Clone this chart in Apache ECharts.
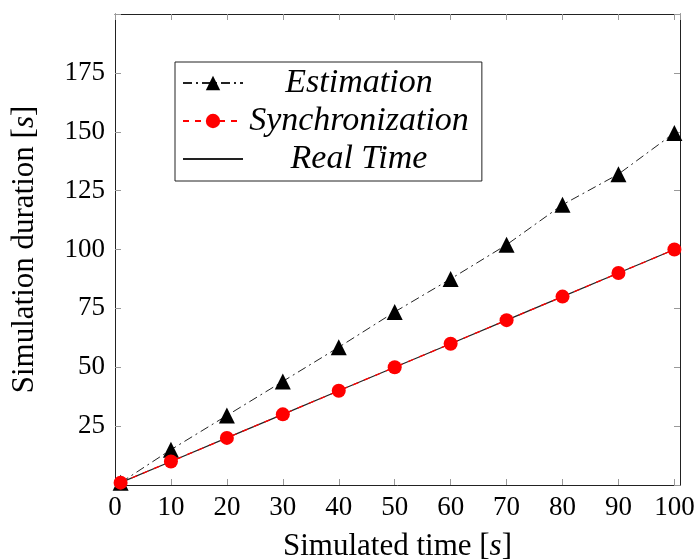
<!DOCTYPE html>
<html>
<head>
<meta charset="utf-8">
<script src="https://cdn.jsdelivr.net/npm/echarts@6/dist/echarts.min.js"></script>
<style>
  html, body { margin: 0; padding: 0; background: #fff; overflow: hidden; }
  #chart { width: 697px; height: 559px; }
</style>
</head>
<body>
<div id="chart"></div>
<script>
// data
const simTime = [1, 10, 20, 30, 40, 50, 60, 70, 80, 90, 100];
const estimation = [1, 15, 29.5, 44, 58.5, 73.5, 87.5, 102, 119, 132, 149.5];
const synchronization = [1, 10, 20, 30, 40, 50, 60, 70, 80, 90, 100];
const realTime = [1, 10, 20, 30, 40, 50, 60, 70, 80, 90, 100];
const yTicks = [25, 50, 75, 100, 125, 150, 175];

const serif = '"Liberation Serif", "DejaVu Serif", serif';

const pairs = (xs, ys) => xs.map((x, i) => [x, ys[i]]);

const chart = echarts.init(document.getElementById('chart'));

// same tick look on all four sides of the box
const tickStyle = { show: true, inside: true, length: 6, lineStyle: { color: '#999', width: 1 } };
const lineStyleAxis = { show: true, onZero: false, lineStyle: { color: '#222', width: 1 } };
const nameStyle = {
  fontFamily: serif, fontSize: 31, color: '#000',
  rich: { i: { fontFamily: serif, fontStyle: 'italic', fontSize: 31, color: '#000' } }
};

chart.setOption({
  animation: false,
  backgroundColor: '#fff',
  // fixed box, no auto-fitting of labels
  grid: { left: 115, right: 17, top: 14, bottom: 74, containLabel: false, outerBoundsMode: 'none' },
  legend: {
    orient: 'vertical',
    left: 175,
    top: 62,
    padding: [4, 13, 5, 7],
    itemGap: 4,
    itemWidth: 60,
    itemHeight: 18,
    borderColor: '#222',
    borderWidth: 1,
    data: ['Estimation', 'Synchronization', { name: 'Real Time', itemStyle: { opacity: 0 } }],
    formatter: name => '{n|' + name + '}',
    textStyle: {
      rich: {
        n: { width: 222, align: 'center', fontFamily: serif, fontStyle: 'italic', fontSize: 34, color: '#000' }
      }
    }
  },
  xAxis: [
    {
      type: 'value', min: 0, max: 101, interval: 10,
      axisLine: lineStyleAxis, axisTick: tickStyle, splitLine: { show: false },
      axisLabel: { showMaxLabel: false, fontFamily: serif, fontSize: 27, color: '#000', margin: 9 },
      name: 'Simulated time [{i|s}]',
      nameLocation: 'middle',
      nameGap: 46,
      nameTextStyle: nameStyle
    },
    {
      type: 'value', position: 'top', min: 0, max: 101, interval: 10,
      axisLine: lineStyleAxis, axisTick: tickStyle, axisLabel: { show: false }, splitLine: { show: false }
    }
  ],
  yAxis: [
    {
      type: 'value', min: 0, max: 200, interval: 25,
      axisLine: lineStyleAxis, axisTick: tickStyle, splitLine: { show: false },
      axisLabel: {
        fontFamily: serif, fontSize: 27, color: '#000', margin: 10,
        formatter: v => (yTicks.indexOf(v) >= 0 ? String(v) : '')
      },
      name: 'Simulation duration [{i|s}]',
      nameLocation: 'middle',
      nameGap: 75,
      nameTextStyle: nameStyle
    },
    {
      type: 'value', position: 'right', min: 0, max: 200, interval: 25,
      axisLine: lineStyleAxis, axisTick: tickStyle, axisLabel: { show: false }, splitLine: { show: false }
    }
  ],
  series: [
    {
      name: 'Estimation',
      type: 'line',
      data: pairs(simTime, estimation),
      symbol: 'triangle',
      symbolSize: 16,
      itemStyle: { color: '#000' },
      lineStyle: { color: '#222', width: 1, type: [9, 4, 2, 4] },
      z: 3
    },
    {
      name: 'Real Time',
      type: 'line',
      data: pairs(simTime, realTime),
      symbol: 'none',
      itemStyle: { color: '#222' },
      lineStyle: { color: '#222', width: 1.2 },
      z: 2
    },
    {
      name: 'Synchronization',
      type: 'line',
      data: pairs(simTime, synchronization),
      symbol: 'circle',
      symbolSize: 14,
      itemStyle: { color: '#ff0000' },
      lineStyle: { color: '#ff0000', width: 1.3, type: [6, 6] },
      z: 4
    }
  ]
});
</script>
</body>
</html>
